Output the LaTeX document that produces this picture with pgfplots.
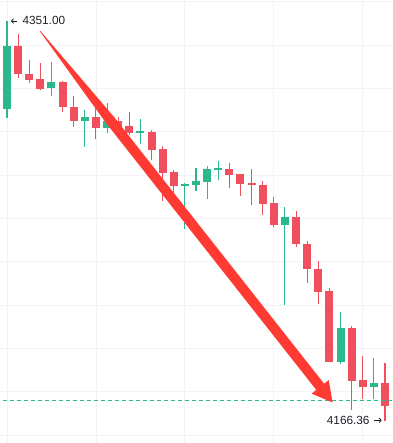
\documentclass[border=0pt]{standalone}
\usepackage{fontspec}
\setmainfont{Liberation Sans}
\usepackage{pgfplots}
\pgfplotsset{compat=1.18}
\usepackage{pgfplotstable}
\usetikzlibrary{arrows.meta}
\definecolor{cgreen}{RGB}{42,184,140}
\definecolor{cred}{RGB}{240,80,94}
\definecolor{carrow}{RGB}{255,58,50}
\definecolor{gridc}{RGB}{242,243,246}
\definecolor{txt}{RGB}{30,32,38}

% up (green) candles: index open high low close
\pgfplotstableread{
x o h l c
0 4310.33 4351.00 4306.17 4339.55
4 4320.30 4332.30 4316.61 4323.07
7 4305.06 4310.00 4292.79 4306.77
9 4301.93 4313.10 4299.25 4304.93
12 4299.53 4305.85 4294.17 4299.90
16 4275.15 4276.17 4254.94 4275.52
17 4275.52 4283.37 4272.61 4277.23
18 4276.91 4284.29 4268.92 4282.77
19 4282.45 4286.60 4277.69 4283.23
25 4257.06 4265.37 4219.99 4260.61
30 4193.82 4216.62 4192.90 4209.51
33 4182.28 4195.39 4176.60 4183.99
}\up

% down (red) candles
\pgfplotstableread{
x o h l c
1 4339.55 4344.95 4324.91 4326.48
2 4326.76 4333.08 4322.61 4323.85
3 4324.31 4331.84 4319.47 4319.70
5 4323.07 4323.30 4308.94 4311.53
6 4311.39 4316.61 4302.30 4305.06
8 4306.77 4312.31 4296.85 4301.83
10 4304.93 4306.91 4296.48 4302.29
11 4302.62 4309.22 4298.47 4299.53
13 4299.85 4300.77 4286.92 4291.54
14 4292.00 4293.39 4268.14 4281.06
15 4281.39 4282.31 4268.46 4275.06
20 4282.77 4285.40 4274.14 4280.14
21 4280.46 4280.60 4270.45 4275.98
22 4276.44 4282.77 4266.01 4275.24
23 4275.38 4277.09 4261.67 4266.75
24 4267.07 4269.85 4255.86 4257.06
26 4260.61 4263.38 4246.90 4248.01
27 4248.01 4249.53 4230.01 4236.47
28 4236.61 4240.44 4220.32 4226.13
29 4226.45 4227.70 4193.50 4193.82
31 4209.51 4210.30 4171.52 4185.05
32 4185.23 4196.45 4176.60 4182.28
34 4184.13 4193.08 4166.36 4173.51
}\down

\begin{document}
\begin{tikzpicture}
\begin{axis}[
  width=392pt, height=443pt, scale only axis,
  xmin=-0.63, xmax=34.63, ymin=4156.29, ymax=4360.78,
  axis line style={draw=none}, major tick length=0pt,
  xtick={0,8,16,24,32}, ytick={4160,4180,...,4360},
  xticklabels={}, yticklabels={},
  grid=major, grid style={draw=gridc, line width=0.8pt},
]
% wicks
\addplot[draw=none, mark=none, forget plot,
  error bars/.cd, y dir=both, y explicit, error mark=none,
  error bar style={draw=cgreen, line width=1.1pt}]
  table[x=x, y expr={(\thisrow{h}+\thisrow{l})/2}, y error expr={(\thisrow{h}-\thisrow{l})/2}] {\up};
\addplot[draw=none, mark=none, forget plot,
  error bars/.cd, y dir=both, y explicit, error mark=none,
  error bar style={draw=cred, line width=1.1pt}]
  table[x=x, y expr={(\thisrow{h}+\thisrow{l})/2}, y error expr={(\thisrow{h}-\thisrow{l})/2}] {\down};
% bodies
\addplot[draw=none, mark=none, forget plot,
  error bars/.cd, y dir=both, y explicit, error mark=none,
  error bar style={draw=cgreen, line width=8pt}]
  table[x=x, y expr={(\thisrow{o}+\thisrow{c})/2}, y error expr={max(abs(\thisrow{o}-\thisrow{c})/2,0.4)}] {\up};
\addplot[draw=none, mark=none, forget plot,
  error bars/.cd, y dir=both, y explicit, error mark=none,
  error bar style={draw=cred, line width=8pt}]
  table[x=x, y expr={(\thisrow{o}+\thisrow{c})/2}, y error expr={max(abs(\thisrow{o}-\thisrow{c})/2,0.4)}] {\down};
% last price dashed line
\addplot[cgreen, line width=0.9pt, dash pattern=on 4pt off 3pt, forget plot]
  coordinates {(-1,4176.14) (35,4176.14)};
% big arrow annotation
\fill[carrow] (axis cs:2.990,4346.56) -- (axis cs:9.606,4306.91) -- (axis cs:28.52,4183.66)
  -- (axis cs:28.94,4185.37) -- (axis cs:29.28,4174.99) -- (axis cs:27.40,4179.09)
  -- (axis cs:27.82,4180.80) -- (axis cs:8.904,4304.05) -- (axis cs:2.947,4346.38) -- cycle;
% high / low labels
\node[anchor=base west, inner sep=0pt, text=txt, font=\fontsize{11.8}{14}\selectfont]
  at (axis cs:1.376,4349.70) {4351.00};
\draw[txt, line width=0.8pt, -{Straight Barb[length=2pt,width=4.5pt]}]
  (axis cs:0.93,4351.09) -- (axis cs:0.36,4351.09);
\node[anchor=base west, inner sep=0pt, text=txt, font=\fontsize{11.8}{14}\selectfont]
  at (axis cs:28.755,4165.06) {4166.36};
\draw[txt, line width=0.8pt, -{Straight Barb[length=2pt,width=4.5pt]}]
  (axis cs:33.01,4166.77) -- (axis cs:33.70,4166.77);
\end{axis}
\pgfresetboundingbox
\useasboundingbox (current axis.south west) rectangle (current axis.north east);
\end{tikzpicture}
\end{document}
